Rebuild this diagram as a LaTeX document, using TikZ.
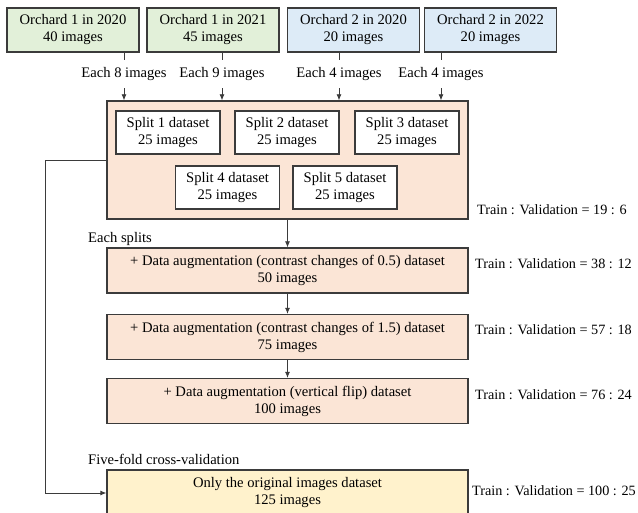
\documentclass[tikz,border=0pt]{standalone}
\usepackage{fontspec}
\setmainfont{Liberation Serif}
\usetikzlibrary{arrows.meta}
\definecolor{orchA}{HTML}{E2F0D9}
\definecolor{orchB}{HTML}{DDEBF7}
\definecolor{splitbg}{HTML}{FBE5D6}
\definecolor{foldbg}{HTML}{FFF2CC}
\definecolor{edge}{HTML}{3B3B3B}

\begin{document}
\begin{tikzpicture}[x=1pt, y=-1pt,
        every node/.style={font=\fontsize{14.6}{17}\selectfont, align=center, inner sep=0pt},
        box/.style={draw=edge, line width=1.3pt, minimum height=44pt},
        orchbox/.style={box, minimum width=132pt},
        splitbox/.style={box, fill=white, minimum width=104pt, minimum height=43pt},
        augbox/.style={box, fill=splitbg, minimum width=361pt, minimum height=45pt},
        each/.style={minimum height=28pt},
        link/.style={draw=edge, line width=0.8pt},
        arr/.style={link, -{Latex[length=6pt,width=5pt]}},
        ratio/.style={anchor=west, font=\fontsize{14.2}{17}\selectfont}]
        \def\midx{287.5}
        \useasboundingbox (0,0) rectangle (638,513);
        % orchards
        \node[orchbox, fill=orchA] (o1) at (73,30) {Orchard 1 in 2020\\40 images};
        \node[orchbox, fill=orchA] (o2) at (213,30) {Orchard 1 in 2021\\45 images};
        \node[orchbox, fill=orchB] (o3) at (353.5,30) {Orchard 2 in 2020\\20 images};
        \node[orchbox, fill=orchB] (o4) at (490.5,30) {Orchard 2 in 2022\\20 images};
        % pool of splits
        \node[box, fill=splitbg, minimum width=361pt, minimum height=118pt] (pool) at (\midx,160) {};
        \node[splitbox] (s1) at (168,132.5) {Split 1 dataset\\25 images};
        \node[splitbox] (s2) at (287,132.5) {Split 2 dataset\\25 images};
        \node[splitbox] (s3) at (407,132.5) {Split 3 dataset\\25 images};
        \node[splitbox] (s4) at (227.5,187.5) {Split 4 dataset\\25 images};
        \node[splitbox] (s5) at (345,187.5) {Split 5 dataset\\25 images};
        % per orchard share
        \node[each] (e1) at (124,74) {Each 8 images};
        \node[each] (e2) at (222,74) {Each 9 images};
        \node[each] (e3) at (339,74) {Each 4 images};
        \node[each] (e4) at (441,74) {Each 4 images};
        \draw[link] (e1.north |- o1.south) -- (e1.north);
        \draw[link] (e2.north |- o2.south) -- (e2.north);
        \draw[link] (e3.north |- o3.south) -- (e3.north);
        \draw[link] (e4.north |- o4.south) -- (e4.north);
        \draw[arr] (e1.south) -- (e1.south |- pool.north);
        \draw[arr] (e2.south) -- (e2.south |- pool.north);
        \draw[arr] (e3.south) -- (e3.south |- pool.north);
        \draw[arr] (e4.south) -- (e4.south |- pool.north);
        % augmentation chain
        \node[anchor=west] (eachsplit) at (88,239) {Each splits};
        \node[augbox] (aug1) at (\midx,270.5) {+ Data augmentation (contrast changes of 0.5) dataset\\50 images};
        \node[augbox] (aug2) at (\midx,337) {+ Data augmentation (contrast changes of 1.5) dataset\\75 images};
        \node[augbox] (aug3) at (\midx,401) {+ Data augmentation (vertical flip) dataset\\100 images};
        \draw[arr] (pool.south) -- (aug1.north);
        \draw[arr] (aug1.south) -- (aug2.north);
        \draw[arr] (aug2.south) -- (aug3.north);
        % cross-validation
        \node[anchor=west] (fivefold) at (88,459) {Five-fold cross-validation};
        \node[augbox, fill=foldbg, minimum height=46pt] (orig) at (\midx,493) {Only the original images dataset\\125 images};
        \coordinate (turn) at (45,160);
        \draw[arr] (pool.west) -- (turn) |- (orig.west);
        % ratios
        \node[ratio] (r0) at (477,210) {Train : Validation = 19 : 6};
        \node[ratio] (r1) at (475,264) {Train : Validation = 38 : 12};
        \node[ratio] (r2) at (475,330) {Train : Validation = 57 : 18};
        \node[ratio] (r3) at (475,395) {Train : Validation = 76 : 24};
        \node[ratio, anchor=east] (r4) at (636,491) {Train : Validation = 100 : 25};
    \end{tikzpicture}
\end{document}
